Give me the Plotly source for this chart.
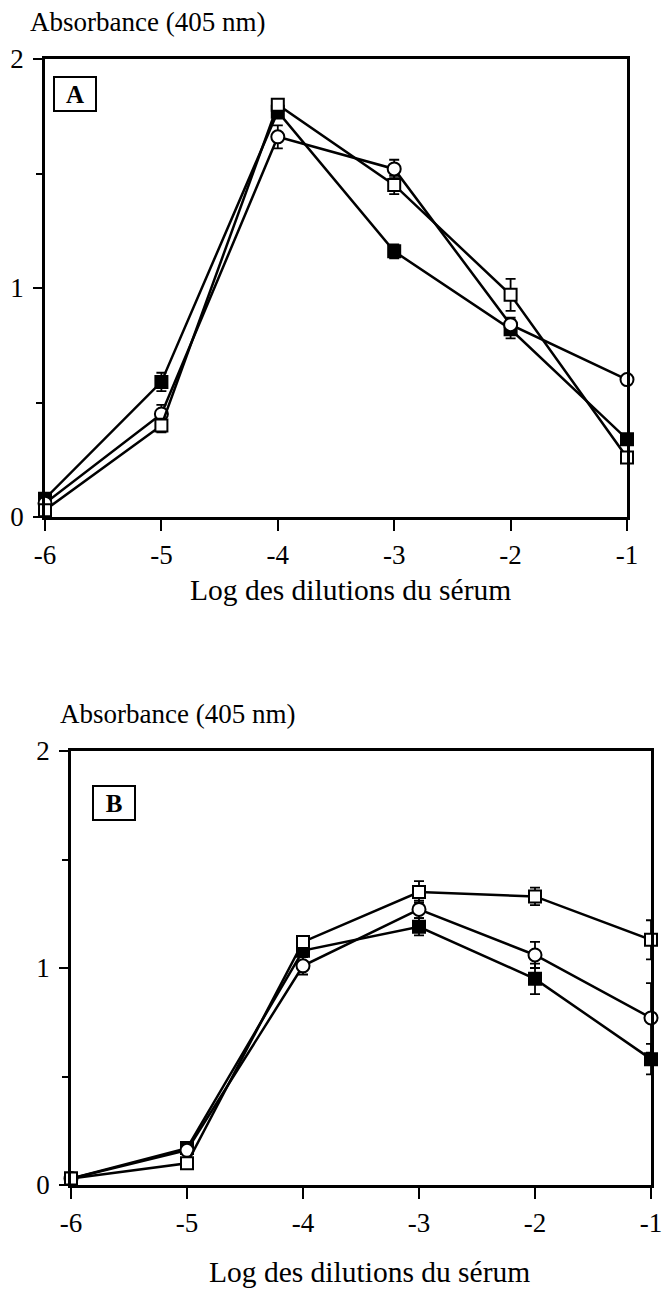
import plotly.graph_objects as go

# ---- data ----
log_dilution = [-6, -5, -4, -3, -2, -1]

a_filled = [0.08, 0.59, 1.77, 1.16, 0.82, 0.34]
a_filled_err = [0.02, 0.04, 0.03, 0.03, 0.04, 0.02]
a_circle = [0.06, 0.45, 1.66, 1.52, 0.84, 0.60]
a_circle_err = [0.02, 0.04, 0.05, 0.04, 0.03, 0.02]
a_open = [0.03, 0.40, 1.80, 1.45, 0.97, 0.26]
a_open_err = [0.02, 0.03, 0.02, 0.04, 0.07, 0.02]

b_filled = [0.03, 0.17, 1.08, 1.19, 0.95, 0.58]
b_filled_err = [0.02, 0.02, 0.03, 0.04, 0.07, 0.07]
b_circle = [0.03, 0.16, 1.01, 1.27, 1.06, 0.77]
b_circle_err = [0.02, 0.02, 0.04, 0.04, 0.06, 0.16]
b_open = [0.03, 0.10, 1.12, 1.35, 1.33, 1.13]
b_open_err = [0.02, 0.02, 0.02, 0.05, 0.04, 0.09]

x_ticks = [-6, -5, -4, -3, -2, -1]
x_tick_labels = ["-6", "-5", "-4", "-3", "-2", "-1"]
y_ticks = [0, 1, 2]
y_tick_labels = ["0", "1", "2"]
y_label = "Absorbance (405 nm)"
x_label = "Log des dilutions du sérum"

W, H = 662, 1298
FONT = "Liberation Serif"

def px(x):
    return x / W

def py(y):
    return 1 - y / H

fig = go.Figure()

def add_series(xa, ya, yvals, errs, symbol, fill):
    fig.add_trace(go.Scatter(
        x=log_dilution, y=yvals, xaxis=xa, yaxis=ya,
        mode="lines+markers",
        line=dict(color="black", width=2.5),
        marker=dict(symbol=symbol, size=12 if symbol == "square" else 13,
                    color=fill, line=dict(color="black", width=2)),
        error_y=dict(type="data", array=errs, visible=True,
                     color="black", thickness=1.8, width=5),
        cliponaxis=False, showlegend=False,
    ))

# Panel A
add_series("x", "y", a_filled, a_filled_err, "square", "black")
add_series("x", "y", a_circle, a_circle_err, "circle", "white")
add_series("x", "y", a_open, a_open_err, "square", "white")
# Panel B
add_series("x2", "y2", b_filled, b_filled_err, "square", "black")
add_series("x2", "y2", b_circle, b_circle_err, "circle", "white")
add_series("x2", "y2", b_open, b_open_err, "square", "white")

axis_common = dict(
    showline=True, linecolor="black", linewidth=2.5, mirror=True,
    ticks="outside", tickcolor="black", tickwidth=2, showgrid=False,
    zeroline=False, automargin=False, ticklabeloverflow="allow",
    tickfont=dict(family=FONT, size=27, color="black"),
)
minor_y = dict(tickvals=[0.5, 1.5], ticklen=6, ticks="outside",
               tickcolor="black", tickwidth=2)

fig.update_layout(
    width=W, height=H,
    margin=dict(l=0, r=0, t=0, b=0),
    paper_bgcolor="white", plot_bgcolor="white",
    xaxis=dict(domain=[px(45), px(627)], anchor="y", range=[-6, -1],
               tickvals=x_ticks, ticktext=x_tick_labels, ticklen=11,
               ticklabelstandoff=1, **axis_common),
    yaxis=dict(domain=[py(517), py(59)], anchor="x", range=[0, 2],
               tickvals=y_ticks, ticktext=y_tick_labels, ticklen=9,
               ticklabelstandoff=4, minor=minor_y, **axis_common),
    xaxis2=dict(domain=[px(71), px(651)], anchor="y2", range=[-6, -1],
                tickvals=x_ticks, ticktext=x_tick_labels, ticklen=11,
                ticklabelstandoff=1, **axis_common),
    yaxis2=dict(domain=[py(1185), py(751)], anchor="x2", range=[0, 2],
                tickvals=y_ticks, ticktext=y_tick_labels, ticklen=9,
                ticklabelstandoff=4, minor=minor_y, **axis_common),
)

abs_font = dict(family=FONT, size=27, color="black")
title_font = dict(family=FONT, size=29.5, color="black")
box_font = dict(family=FONT, size=25, color="black")
annotations = [
    dict(text=y_label, x=px(28), y=py(22), xref="paper", yref="paper",
         xanchor="left", yanchor="middle", showarrow=False, font=abs_font),
    dict(text=x_label, x=px(350), y=py(590), xref="paper", yref="paper",
         xanchor="center", yanchor="middle", showarrow=False, font=title_font),
    dict(text=y_label, x=px(58), y=py(714), xref="paper", yref="paper",
         xanchor="left", yanchor="middle", showarrow=False, font=abs_font),
    dict(text=x_label, x=px(369), y=py(1272), xref="paper", yref="paper",
         xanchor="center", yanchor="middle", showarrow=False, font=title_font),
    dict(text="<b>A</b>", x=px(75), y=py(94), xref="paper", yref="paper",
         xanchor="center", yanchor="middle", showarrow=False, font=box_font,
         width=36, height=28, bordercolor="black", borderwidth=2,
         borderpad=2, bgcolor="white"),
    dict(text="<b>B</b>", x=px(114), y=py(803), xref="paper", yref="paper",
         xanchor="center", yanchor="middle", showarrow=False, font=box_font,
         width=36, height=28, bordercolor="black", borderwidth=2,
         borderpad=2, bgcolor="white"),
]
fig.update_layout(annotations=annotations)

fig.write_html(
    "out.html",
    config={"displayModeBar": False},
    post_script="document.body.style.margin='0';document.body.style.overflow='hidden';",
)
